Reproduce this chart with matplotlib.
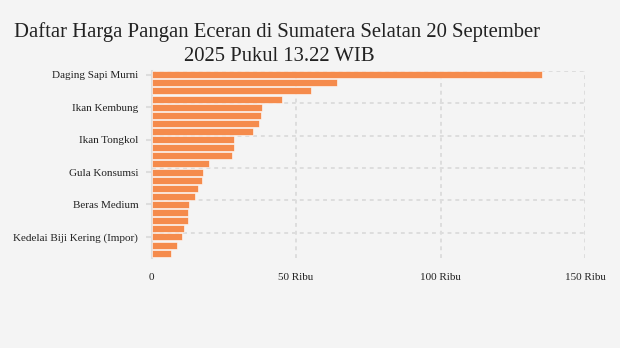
import numpy as np
import matplotlib.pyplot as plt

# Harga eceran (Rp), urut dari termahal
commodities = [
    'Daging Sapi Murni', 'Ikan Bandeng', 'Cabai Rawit Merah', 'Bawang Putih Bonggol',
    'Ikan Kembung', 'Daging Ayam Ras', 'Bawang Merah', 'Cabai Merah Keriting',
    'Ikan Tongkol', 'Telur Ayam Ras', 'Cabai Merah Besar', 'Minyak Goreng Kemasan',
    'Gula Konsumsi', 'Minyakita', 'Beras Premium', 'Minyak Goreng Curah',
    'Beras Medium', 'Beras SPHP', 'Garam Konsumsi', 'Tepung Terigu Kemasan',
    'Kedelai Biji Kering (Impor)', 'Tepung Terigu Curah', 'Jagung Pipilan Kering',
]
prices = [
    135000, 64300, 55300, 45000,
    38100, 37800, 37100, 35000,
    28400, 28400, 27800, 19800,
    17800, 17400, 16000, 15000,
    12900, 12600, 12600, 11200,
    10500, 8800, 6700,
]
label_every = 4
x_ticks = [0, 50, 100, 150]
x_tick_labels = ['0', '50 Ribu', '100 Ribu', '150 Ribu']

title_lines = ['Daftar Harga Pangan Eceran di Sumatera Selatan 20 September',
               '2025 Pukul 13.22 WIB']

bg = '#f4f4f4'
bar_color = '#f58b4c'
grid_color = '#dddddd'
text_color = '#222222'

fig = plt.figure(figsize=(6.2, 3.48), dpi=100, facecolor=bg)
ax = fig.add_axes([151.5 / 620, 1 - 258 / 348, (585 - 151.5) / 620, (258 - 70.7) / 348])
ax.set_facecolor(bg)

y = np.arange(len(prices))
vals = np.array(prices) / 1000
ax.barh(y, vals, height=0.86, color=bar_color, edgecolor='white', linewidth=0.4, zorder=3)

ax.set_xlim(0, 150)
ax.set_ylim(len(prices) - 1 + 0.6, -0.5)

# dashed grid: vertical at x ticks, horizontal at the top of each labelled bar
for xv in x_ticks[1:]:
    ax.axvline(xv, color=grid_color, lw=1.4, ls=(0, (2, 2)), zorder=1)
for i in y[::label_every]:
    ax.axhline(i - 0.5, color=grid_color, lw=1.4, ls=(0, (2, 2)), zorder=1)

for s in ['top', 'right', 'bottom']:
    ax.spines[s].set_visible(False)
ax.spines['left'].set_color(grid_color)
ax.spines['left'].set_linewidth(1.5)

ax.set_yticks(y[::label_every])
ax.set_yticklabels(commodities[::label_every], fontsize=8, family='Liberation Serif', color=text_color)
ax.tick_params(axis='y', length=4.5, width=1.5, color=grid_color, pad=5)

ax.set_xticks(x_ticks)
ax.set_xticklabels(x_tick_labels, fontsize=8, family='Liberation Serif', color=text_color)
ax.tick_params(axis='x', length=0, pad=11)

fig.text(0.447, 1 - 36.7 / 348, title_lines[0], ha='center', va='baseline', fontsize=14.9,
         family='Liberation Serif', color=text_color)
fig.text(0.45, 1 - 60.7 / 348, title_lines[1], ha='center', va='baseline', fontsize=14.9,
         family='Liberation Serif', color=text_color)

plt.savefig('out.png', dpi=100, facecolor=bg)
